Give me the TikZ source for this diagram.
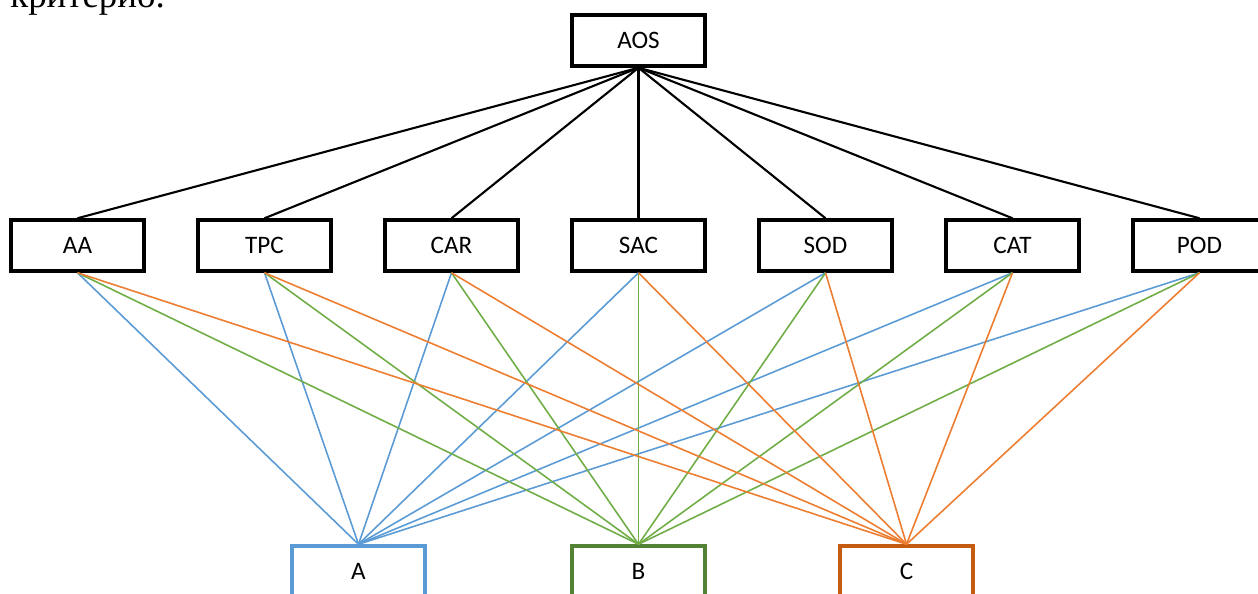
\documentclass[tikz,border=0pt]{standalone}
\usepackage{fontspec}
\setmainfont{Carlito}
\newfontfamily\bodyfont{Liberation Serif}
\usetikzlibrary{positioning}
\definecolor{critblue}{HTML}{5B9BD5}
\definecolor{critgreen}{HTML}{70AD47}
\definecolor{critorange}{HTML}{ED7D31}
\definecolor{altgreen}{HTML}{548235}
\definecolor{altorange}{HTML}{C55A11}

\begin{document}
\begin{tikzpicture}[x=0.02cm, y=-0.02cm,
  box/.style={draw, line width=2pt, minimum width=2.66cm, minimum height=1.02cm,
              inner sep=0pt, font=\fontsize{14.3}{16}\selectfont},
  tree/.style={line width=1.2pt, black},
  blu/.style={line width=0.9pt, critblue},
  grn/.style={line width=0.9pt, critgreen},
  org/.style={line width=0.9pt, critorange},
]
\useasboundingbox (0,0) rectangle (1258,593);
\clip (0,0) rectangle (1258,593);

% ---- text above ----
\node[anchor=base west, inner sep=0pt, font=\bodyfont\fontsize{21}{24}\selectfont]
  (txt) at (10, 7) {критерио.};

% ---- Goal ----
\node[box] (aos) at (638.5, 40.5) {AOS};

% ---- Criteria ----
\node[box] (aa)  at (77.5, 245.5)   {AA};
\node[box] (tpc) at (264.5, 245.5)  {TPC};
\node[box] (car) at (451.5, 245.5)  {CAR};
\node[box] (sac) at (638.5, 245.5)  {SAC};
\node[box] (sod) at (825.5, 245.5)  {SOD};
\node[box] (cat) at (1012.5, 245.5) {CAT};
\node[box] (pod) at (1199.5, 245.5) {POD};

\draw[tree] (aos.south) -- (aa.north);
\draw[tree] (aos.south) -- (tpc.north);
\draw[tree] (aos.south) -- (car.north);
\draw[tree] (aos.south) -- (sac.north);
\draw[tree] (aos.south) -- (sod.north);
\draw[tree] (aos.south) -- (cat.north);
\draw[tree] (aos.south) -- (pod.north);

% ---- Alternatives ----
\node[box, draw=critblue]  (altA) at (358.5, 571.5) {A};
\node[box, draw=altgreen]  (altB) at (638.5, 571.5) {B};
\node[box, draw=altorange] (altC) at (906.5, 571.5) {C};

% to A
\draw[blu] (aa.south)  -- (altA.north);
\draw[blu] (tpc.south) -- (altA.north);
\draw[blu] (car.south) -- (altA.north);
\draw[blu] (sac.south) -- (altA.north);
\draw[blu] (sod.south) -- (altA.north);
\draw[blu] (cat.south) -- (altA.north);
\draw[blu] (pod.south) -- (altA.north);

% to B
\draw[grn] (aa.south)  -- (altB.north);
\draw[grn] (tpc.south) -- (altB.north);
\draw[grn] (car.south) -- (altB.north);
\draw[grn] (sac.south) -- (altB.north);
\draw[grn] (sod.south) -- (altB.north);
\draw[grn] (cat.south) -- (altB.north);
\draw[grn] (pod.south) -- (altB.north);

% to C
\draw[org] (aa.south)  -- (altC.north);
\draw[org] (tpc.south) -- (altC.north);
\draw[org] (car.south) -- (altC.north);
\draw[org] (sac.south) -- (altC.north);
\draw[org] (sod.south) -- (altC.north);
\draw[org] (cat.south) -- (altC.north);
\draw[org] (pod.south) -- (altC.north);

\end{tikzpicture}
\end{document}
